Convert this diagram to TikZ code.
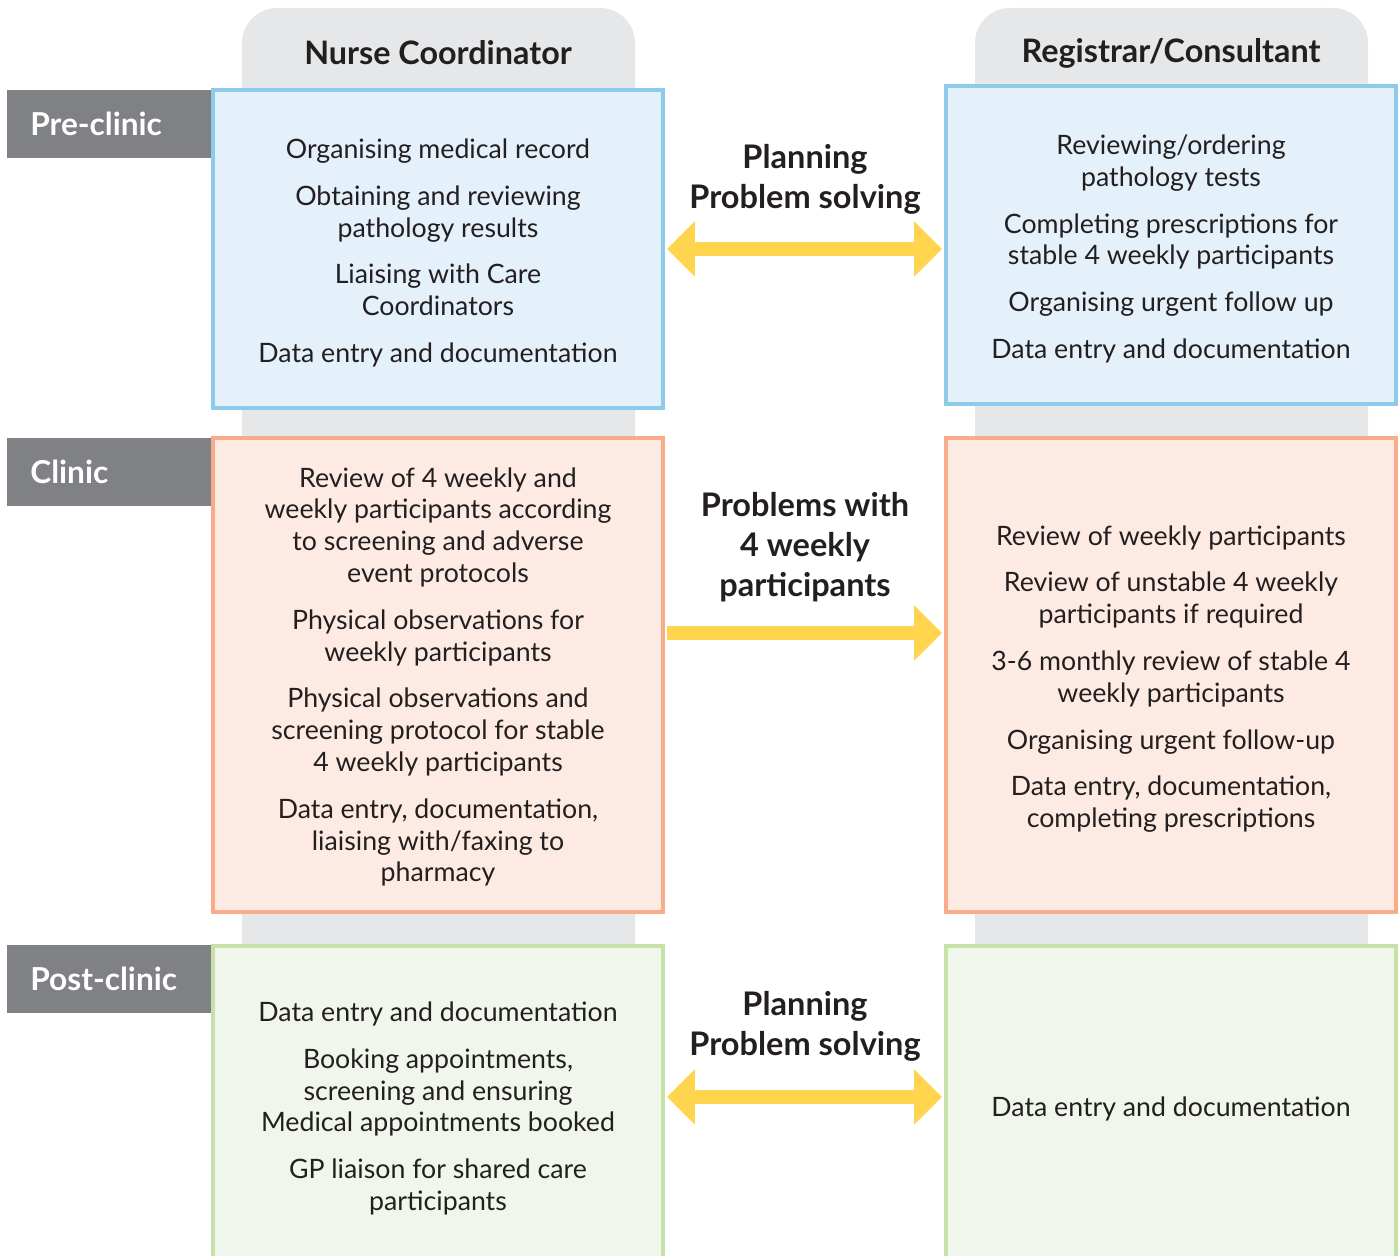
\documentclass[tikz,border=0pt]{standalone}
\usepackage{fontspec}
\setmainfont{Lato}
\usetikzlibrary{arrows.meta,positioning}
\definecolor{ink}{HTML}{231F20}
\definecolor{colgray}{HTML}{E6E7E8}
\definecolor{labgray}{HTML}{808185}
\definecolor{preline}{HTML}{8ECAE9}
\definecolor{prefill}{HTML}{E4F1FA}
\definecolor{clinline}{HTML}{F8AC8C}
\definecolor{clinfill}{HTML}{FDEBE3}
\definecolor{postline}{HTML}{C6E2A8}
\definecolor{postfill}{HTML}{F0F6EC}
\definecolor{arrowyellow}{HTML}{FFD44F}

\begin{document}
\begin{tikzpicture}[x=0.02cm, y=-0.02cm, text=ink,
    item/.style={font=\fontsize{15.2}{18.1}\selectfont, align=center, yshift=-0.08cm},
    box/.style={draw, line width=0.08cm, minimum width=9cm, inner sep=0pt},
    pre box/.style={box, draw=preline, fill=prefill, minimum height=6.36cm},
    clin box/.style={box, draw=clinline, fill=clinfill, minimum height=9.48cm},
    post box/.style={box, draw=postline, fill=postfill, minimum height=6.5cm},
    stage/.style={fill=labgray, text=white, font=\fontsize{18}{21}\selectfont\bfseries,
                  minimum width=4.54cm, minimum height=1.36cm, inner xsep=0.46cm,
                  text width=3.62cm, align=left},
    head/.style={font=\fontsize{18.4}{21}\selectfont\bfseries},
    talk/.style={font=\fontsize{18.5}{22.7}\selectfont\bfseries, align=center},
    link/.style={arrowyellow, line width=0.28cm}]

  \clip (0,0) rectangle (1400,1256);

  % role columns
  \fill[colgray, rounded corners=0.7cm] (242,1300) -- (242,8) -- (635,8) -- (635,1300) -- cycle;
  \fill[colgray, rounded corners=0.7cm] (975,1300) -- (975,8) -- (1368,8) -- (1368,1300) -- cycle;
  \node[head] (nurse) at (438,53) {Nurse Coordinator};
  \node[head] (reg) at (1171,53) {Registrar/Consultant};

  % stage labels
  \node[stage, anchor=north west] (pre) at (7,90) {Pre-clinic};
  \node[stage, anchor=north west] (clin) at (7,438) {Clinic};
  \node[stage, anchor=north west] (post) at (7,945) {Post-clinic};

  % boxes
  \node[pre box] (preL) at (438,249) {};
  \node[pre box] (preR) at (1171,245) {};
  \node[clin box] (clinL) at (438,675) {};
  \node[clin box] (clinR) at (1171,675) {};
  \node[post box] (postL) at (438,1108) {};
  \node[post box] (postR) at (1171,1108) {};

  % pre-clinic tasks
  \node[item] (preLtext) at (preL) {Organising medical record\\[0.3cm]
    Obtaining and reviewing\\ pathology results\\[0.3cm]
    Liaising with Care\\ Coordinators\\[0.3cm]
    Data entry and documentation};
  \node[item] (preRtext) at (preR) {Reviewing/ordering\\ pathology tests\\[0.3cm]
    Completing prescriptions for\\ stable 4 weekly participants\\[0.3cm]
    Organising urgent follow up\\[0.3cm]
    Data entry and documentation};

  % clinic tasks
  \node[item, yshift=0.04cm] (clinLtext) at (clinL) {Review of 4 weekly and\\ weekly participants according\\
    to screening and adverse\\ event protocols\\[0.3cm]
    Physical observations for\\ weekly participants\\[0.3cm]
    Physical observations and\\ screening protocol for stable\\ 4 weekly participants\\[0.3cm]
    Data entry, documentation,\\ liaising with/faxing to\\ pharmacy};
  \node[item] (clinRtext) at (clinR) {Review of weekly participants\\[0.3cm]
    Review of unstable 4 weekly\\ participants if required\\[0.3cm]
    3-6 monthly review of stable 4\\ weekly participants\\[0.3cm]
    Organising urgent follow-up\\[0.3cm]
    Data entry, documentation,\\ completing prescriptions};

  % post-clinic tasks
  \node[item, yshift=0.07cm] (postLtext) at (postL) {Data entry and documentation\\[0.3cm]
    Booking appointments,\\ screening and ensuring\\ Medical appointments booked\\[0.3cm]
    GP liaison for shared care\\ participants};
  \node[item, yshift=0.06cm] (postRtext) at (postR) {Data entry and documentation};

  % links between roles
  \node[talk] (preTalk) at (805,179) {Planning\\ Problem solving};
  \node[talk] (clinTalk) at (805,547) {Problems with\\ 4 weekly\\ participants};
  \node[talk] (postTalk) at (805,1026) {Planning\\ Problem solving};

  \draw[link, {Triangle[length=0.56cm, width=1.08cm]}-{Triangle[length=0.56cm, width=1.08cm]}]
    ([xshift=0.04cm]preL.east) -- ([xshift=-0.04cm]preL.east -| preR.west);
  \draw[link, -{Triangle[length=0.56cm, width=1.08cm]}]
    ([xshift=0.04cm, yshift=0.84cm]clinL.east) -- ([xshift=-0.04cm, yshift=0.84cm]clinR.west);
  \draw[link, {Triangle[length=0.56cm, width=1.08cm]}-{Triangle[length=0.56cm, width=1.08cm]}]
    ([xshift=0.04cm, yshift=0.22cm]postL.east) -- ([xshift=-0.04cm, yshift=0.22cm]postR.west);
\end{tikzpicture}
\end{document}
